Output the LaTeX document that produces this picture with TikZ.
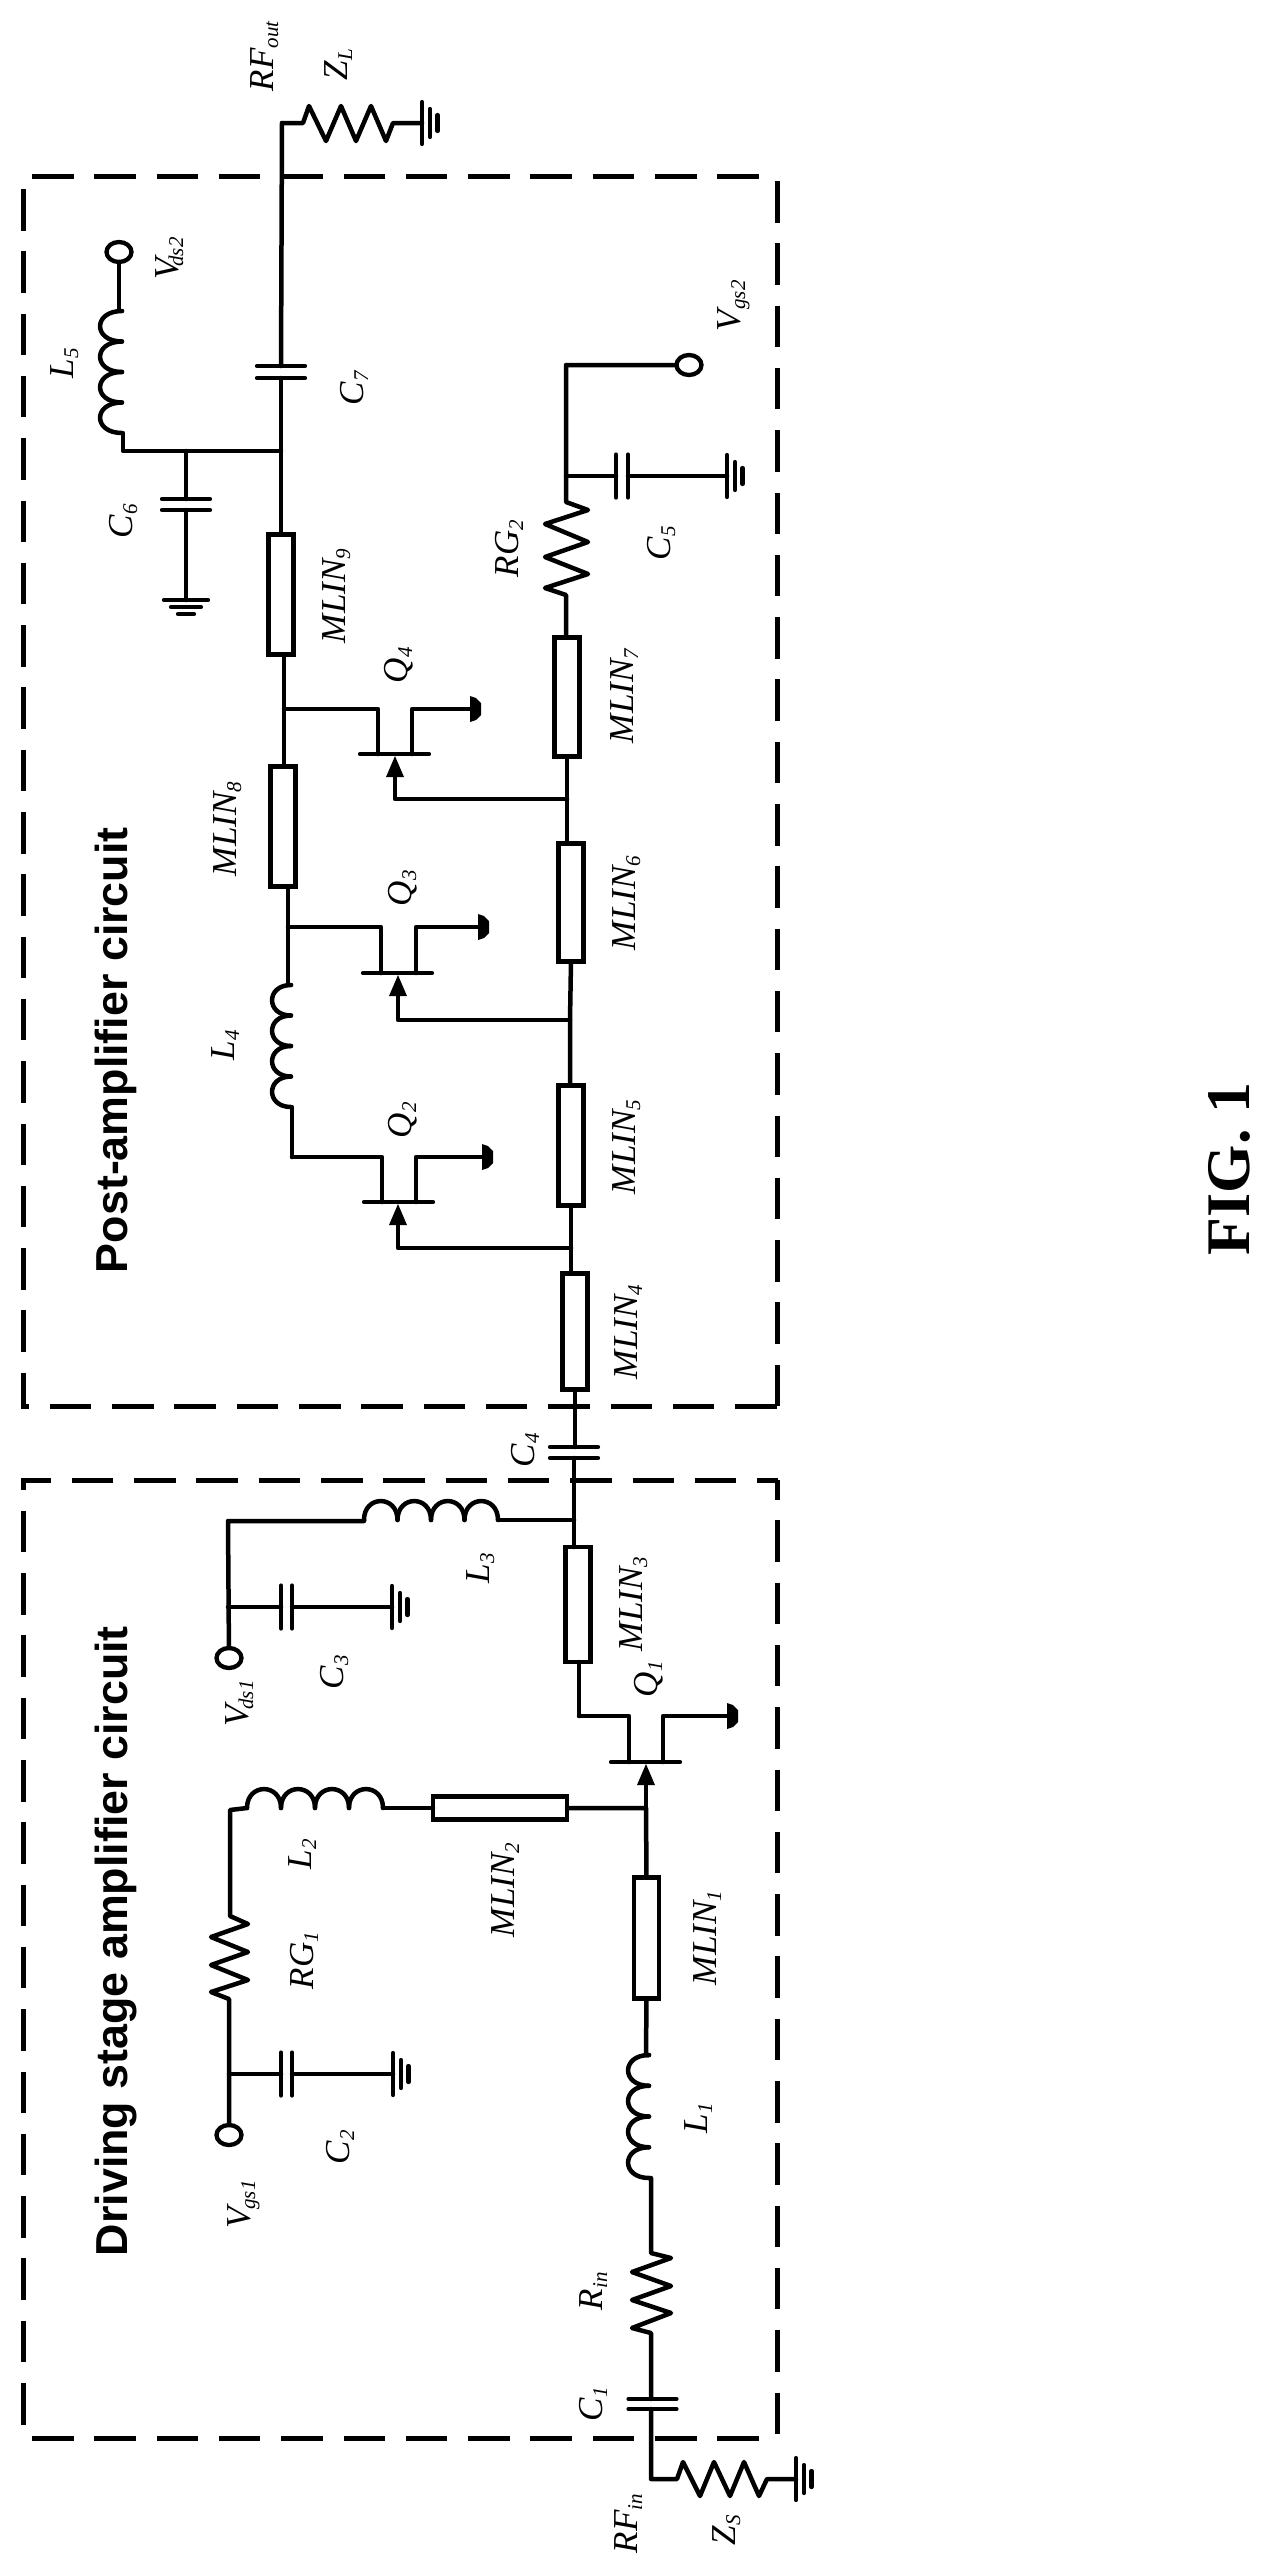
\documentclass[tikz,border=0pt]{standalone}
\usepackage{fontspec}
\usetikzlibrary{shapes.geometric}
\setmainfont{Liberation Serif}
\newfontfamily\titlefont{Liberation Sans}
\tikzset{
  wire/.style={line width=4.5pt,line join=round,line cap=round,black},
  thinbar/.style={line width=4.2pt,line cap=round,black},
  dashbox/.style={line width=5pt,black,dash pattern=on 41.5pt off 20.8pt},
  mlin/.style={draw,line width=4.3pt,fill=white,rectangle,inner sep=0pt,outer sep=0pt},
  term/.style={draw,line width=4.3pt,fill=white,ellipse,inner sep=0pt,outer sep=0pt,minimum width=25pt,minimum height=20pt},
  lbl/.style={rotate=90,anchor=base west,inner sep=0pt,outer sep=0pt,font=\fontsize{35}{35}\selectfont\itshape},
  title/.style={rotate=90,anchor=base west,inner sep=0pt,outer sep=0pt,font=\fontsize{44.8}{45}\selectfont\titlefont\bfseries},
  figlbl/.style={rotate=90,anchor=base west,inner sep=0pt,outer sep=0pt,font=\fontsize{62}{62}\selectfont\bfseries},
}
\newcommand{\Sb}[1]{\raisebox{-5pt}{\fontsize{21}{21}\selectfont #1}}
\newcommand{\lab}[5]{\node[lbl] (#1) at (#2,#3) {#4\Sb{#5}};}
% vertical coil: x of cusps, top y, lobe length, bulge (to the left)
\newcommand{\coilV}[4]{\foreach \i in {0,1,2,3}{\draw[wire] (#1,{#2+\i*#3}) .. controls ({#1-1.33*#4},{#2+\i*#3}) and ({#1-1.33*#4},{#2+(\i+1)*#3}) .. (#1,{#2+(\i+1)*#3});}}
% horizontal coil: left x, y of cusps, lobe length, bulge (upward)
\newcommand{\coilH}[4]{\foreach \i in {0,1,2,3}{\draw[wire] ({#1+\i*#3},#2) .. controls ({#1+\i*#3},{#2-1.33*#4}) and ({#1+(\i+1)*#3},{#2-1.33*#4}) .. ({#1+(\i+1)*#3},#2);}}
% ground opening to the right
\newcommand{\gndR}[2]{\draw[thinbar] (#1,{#2-21}) -- (#1,{#2+21}); \draw[thinbar] ({#1+8},{#2-14}) -- ({#1+8},{#2+14}); \draw[thinbar] ({#1+15.5},{#2-8}) -- ({#1+15.5},{#2+8});}
% ground opening downward
\newcommand{\gndD}[2]{\draw[thinbar] ({#1-22},#2) -- ({#1+22},#2); \draw[thinbar] ({#1-15},{#2+7}) -- ({#1+15},{#2+7}); \draw[thinbar] ({#1-8},{#2+14}) -- ({#1+8},{#2+14});}
% capacitor plates
\newcommand{\capH}[4]{\draw[thinbar] ({#1-#4},#2) -- ({#1+#4},#2); \draw[thinbar] ({#1-#4},#3) -- ({#1+#4},#3);}
\newcommand{\capV}[4]{\draw[thinbar] (#1,{#3-#4}) -- (#1,{#3+#4}); \draw[thinbar] (#2,{#3-#4}) -- (#2,{#3+#4});}
% FET: #1 drain x, #2 source x, #3 gate x, #4 bar y, #5 drain/source y, #6 end x of source, #7 gate wire y, #8 drain junction, #9 gate junction
\newcommand{\fet}[9]{
  \draw[wire] (#8) -- (#1,#5) -- (#1,#4);
  \draw[wire] (#2,#4) -- (#2,#5) -- (#6,#5);
  \draw[thinbar] ({#1-18},#4) -- ({#1+51},#4);
  \draw[wire] (#9) -- (#3,#7) -- (#3,{#4+15});
  \fill[black] (#3,{#4+2}) -- ({#3+9},{#4+23}) -- ({#3-9},{#4+23}) -- cycle;
  \fill[black] ({#6-8},{#5-13}) -- ({#6-2},{#5-11}) -- ({#6+3},{#5-6}) -- ({#6+3},{#5+6}) -- ({#6-2},{#5+11}) -- ({#6-8},{#5+13}) -- cycle;
}
\begin{document}
\begin{tikzpicture}[x=1pt,y=-1pt]
\useasboundingbox (0,0) rectangle (1271,2576);
\fill[white] (0,0) rectangle (1271,2576);

% ===== dashed boxes
\draw[dashbox] (32,176) -- (762,176);
\draw[dashbox] (23.5,189) -- (23.5,1406);
\draw[dashbox] (777,181) -- (777,1406);
\draw[dashbox,dash phase=33.5pt] (21,1406) -- (777,1406);
\draw[dashbox,dash phase=11.5pt] (21,1480) -- (778,1480);
\draw[dashbox,dash phase=29.5pt] (23.5,1478) -- (23.5,2426);
\draw[dashbox,dash phase=22pt] (777,1480) -- (777,2439);
\draw[dashbox] (32,2438) -- (762,2438);

% ===== nodes: microstrip lines
\node[mlin,minimum width=25pt,minimum height=120pt] (m9) at (281,594.5) {};
\node[mlin,minimum width=25pt,minimum height=120pt] (m8) at (283,826.5) {};
\node[mlin,minimum width=25pt,minimum height=119pt] (m7) at (567,697) {};
\node[mlin,minimum width=25pt,minimum height=118pt] (m6) at (571,902.5) {};
\node[mlin,minimum width=25pt,minimum height=120pt] (m5) at (571,1145.5) {};
\node[mlin,minimum width=25pt,minimum height=116pt] (m4) at (575,1331.5) {};
\node[mlin,minimum width=25pt,minimum height=115pt] (m3) at (578,1604.5) {};
\node[mlin,minimum width=25pt,minimum height=121pt] (m1) at (646.5,1938) {};
\node[mlin,minimum width=134pt,minimum height=23pt] (m2) at (500,1808) {};

% ===== terminals
\node[term] (vds2) at (119,252) {};
\node[term] (vgs2) at (689,365) {};
\node[term] (vds1) at (229,1658) {};
\node[term] (vgs1) at (229,2135) {};

% ===== junction coordinates
\coordinate (jL) at (282,123);
\coordinate (j6) at (281,451);
\coordinate (c6j) at (186,451);
\coordinate (j5) at (566,476);
\coordinate (vg2c) at (566,365);
\coordinate (jQ4d) at (284,709);
\coordinate (jQ4g) at (567,799);
\coordinate (jQ3d) at (288,927);
\coordinate (jQ3g) at (570,1020);
\coordinate (jQ2d) at (292,1157);
\coordinate (jQ2g) at (571,1248);
\coordinate (j3) at (574,1520);
\coordinate (vd1c) at (228,1521);
\coordinate (c3j) at (228,1607);
\coordinate (jQ1d) at (579,1716);
\coordinate (jQ1g) at (646,1808);
\coordinate (c2j) at (229,2074);
\coordinate (rfin) at (651,2479);

% ===== output stage
\draw[wire] (jL) -- (303,123) -- (309,106) -- (326,141) -- (341,106) -- (356,141) -- (371,106) -- (386,141) -- (393,123) -- (422,123);
\gndR{422}{123}
\draw[wire] (jL) -- (281,366);
\capH{281}{366}{378}{24}
\draw[wire] (281,378) -- (j6) -- (m9.north);
\draw[wire] (vds2) -- (119,311) -- (122,311);
\coilV{122}{311}{30.5}{22}
\draw[wire] (122,433) -- (123,433) -- (123,451) -- (j6);
\draw[wire] (c6j) -- (186,499);
\capH{186}{499}{510}{24}
\draw[wire] (186,510) -- (186,600);
\gndD{186}{600}
\draw[wire] (m9.south -| jQ4d) -- (jQ4d) -- (m8.north -| jQ4d);

% ===== gate bias Q4
\draw[wire] (vgs2) -- (vg2c) -- (j5) -- (566,502) -- (588,510) -- (545,524) -- (588,542) -- (545,557) -- (588,574) -- (545,588) -- (566,595) -- (m7.north -| 566,0);
\draw[wire] (j5) -- (616,476);
\capV{616}{628}{476}{21.5}
\draw[wire] (628,476) -- (727,476);
\gndR{727}{476}
\draw[wire] (m7.south) -- (jQ4g) -- (m6.north -| jQ4g);
\draw[wire] (m6.south) -- (jQ3g) -- (m5.north -| jQ3g);
\draw[wire] (m5.south) -- (jQ2g) -- (m4.north -| jQ2g);

% ===== FETs Q4 Q3 Q2
\fet{378}{412}{395}{754}{709}{478}{799}{jQ4d}{jQ4g}
\draw[wire] (m8.south -| jQ3d) -- (jQ3d) -- (288,985) -- (291,985);
\coilV{291}{985}{30.5}{19}
\fet{381}{416}{398}{973}{927}{486}{1020}{jQ3d}{jQ3g}
\draw[wire] (291,1107) -- (292,1107) -- (jQ2d);
\fet{382}{416}{398}{1202}{1157}{490}{1248}{jQ2d}{jQ2g}

% ===== interstage
\draw[wire] (m4.south) -- (575,1447);
\capH{574}{1447}{1458}{24}
\draw[wire] (574,1458) -- (j3) -- (m3.north -| j3);
\draw[wire] (j3) -- (498,1520);
\coilH{364}{1520}{33.5}{19}
\draw[wire] (364,1520) -- (364,1521) -- (vd1c) -- (vds1);
\draw[wire] (c3j) -- (281,1607);
\capV{281}{292}{1607}{21.5}
\draw[wire] (292,1607) -- (392,1607);
\gndR{392}{1607}

% ===== driving stage
\fet{629}{663}{646}{1762}{1716}{735}{1808}{jQ1d}{jQ1g}
\draw[wire] (m3.south -| jQ1d) -- (jQ1d);
\draw[wire] (m1.north) -- (jQ1g) -- (m2.east);
\draw[wire] (m2.west) -- (383,1808);
\coilH{247}{1808}{34}{19}
\draw[wire] (247,1808) -- (230,1810) -- (230,1916) -- (248,1924) -- (211,1937) -- (248,1952) -- (211,1965) -- (248,1980) -- (211,1992) -- (229,1999) -- (c2j) -- (vgs1);
\draw[wire] (c2j) -- (281,2074);
\capV{281}{292}{2074}{21.5}
\draw[wire] (292,2074) -- (393,2074);
\gndR{393}{2074}

\draw[wire] (m1.south) -- (646,2055) -- (649,2055);
\coilV{649}{2055}{30.75}{21}
\draw[wire] (649,2178) -- (651,2178) -- (651,2253) -- (671,2258) -- (632,2272) -- (671,2286) -- (632,2300) -- (671,2313) -- (632,2328) -- (651,2333) -- (651,2399);
\capH{652.5}{2399}{2409}{24}
\draw[wire] (651,2409) -- (rfin) -- (677,2479) -- (683,2462) -- (700,2496) -- (714,2462) -- (730,2496) -- (744,2462) -- (759,2496) -- (767,2479) -- (796,2479);
\gndR{796}{2479}

% ===== labels
\lab{tRFout}{273}{91}{RF}{out}
\lab{tZL}{347}{80}{Z}{L}
\lab{tVds2}{178}{279}{V\kern-9pt}{ds2}
\lab{tL5}{73}{378}{L}{5}
\lab{tC7}{363}{405}{C}{7}
\lab{tC6}{132}{538}{C}{6}
\lab{tC5}{670}{560}{C}{5}
\lab{tVgs2}{740}{331}{V}{gs2}
\lab{tRG2}{518}{577}{RG}{2}
\lab{tM7}{633}{743}{MLIN}{7}
\lab{tM9}{345}{643}{MLIN}{9}
\lab{tM8}{236}{876}{MLIN}{8}
\lab{tM6}{635}{950}{MLIN}{6}
\lab{tQ4}{407}{683}{Q}{4}
\lab{tQ3}{411}{906}{Q}{3}
\lab{tQ2}{411}{1138}{Q}{2}
\lab{tL4}{234}{1060}{L}{4}
\lab{tM5}{635}{1194}{MLIN}{5}
\lab{tM4}{637}{1379}{MLIN}{4}
\lab{tC4}{534}{1467}{C}{4}
\lab{tL3}{489}{1583}{L}{3}
\lab{tM3}{642}{1651}{MLIN}{3}
\lab{tQ1}{657}{1697}{Q}{1}
\lab{tVds1}{248}{1726}{V\kern-5pt}{ds1}
\lab{tC3}{343}{1689}{C}{3}
\lab{tL2}{311}{1869}{L}{2}
\lab{tRG1}{313}{1989}{RG}{1}
\lab{tM2}{514}{1937}{MLIN}{2}
\lab{tM1}{716}{1985}{MLIN}{1}
\lab{tL1}{707}{2133}{L}{1}
\lab{tC2}{349}{2164}{C}{2}
\lab{tVgs1}{250}{2228}{V\kern-3pt}{gs1}
\lab{tRin}{602}{2310}{R}{in}
\lab{tC1}{602}{2421}{C}{1}
\lab{tRFin}{637}{2553}{RF}{in}
\lab{tZS}{735}{2545}{Z}{S}

\node[title] (tPost) at (127,1273) {Post-amplifier circuit};
\node[title] (tDrive) at (127,2256) {Driving stage amplifier circuit};
\node[figlbl] (tFig) at (1249,1255) {FIG. 1};
\end{tikzpicture}
\end{document}
